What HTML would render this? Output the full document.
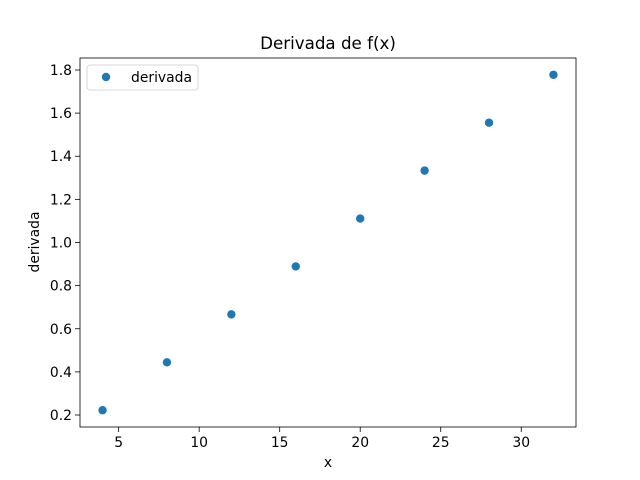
<!DOCTYPE html>
<html><head><meta charset="utf-8"><style>body{margin:0;background:#fff}svg{display:block;font-family:"DejaVu Sans","Liberation Sans",sans-serif}</style></head>
<body>
<svg id="c" width="640" height="480"></svg>
<script>
const xs=[4,8,12,16,20,24,28,32];
const ys=[0.2222,0.4444,0.6667,0.8889,1.1111,1.3333,1.5556,1.7778];
const xticks=[5,10,15,20,25,30];
const yticks=[0.2,0.4,0.6,0.8,1.0,1.2,1.4,1.6,1.8];
const L=80,R=576,T=58,B=427;
const x0=2.6,x1=33.4,y0=0.1444,y1=1.8556;
const X=v=>L+(v-x0)/(x1-x0)*(R-L);
const Y=v=>B-(v-y0)/(y1-y0)*(B-T);
const s=document.getElementById('c');const NS='http://www.w3.org/2000/svg';
function el(t,a,txt){const e=document.createElementNS(NS,t);for(const k in a)e.setAttribute(k,a[k]);if(txt!=null)e.textContent=txt;s.appendChild(e);return e;}
let e;
e=el('text',{x:328,y:49,'text-anchor':'middle','font-size':16.7},'Derivada de f(x)');


xticks.forEach(v=>{const p=X(v);
e=el('line',{x1:p,x2:p,y1:B,y2:B+5,stroke:'#000','stroke-width':0.8});


e=el('text',{x:p,y:B+20,'text-anchor':'middle','font-size':13.9},String(v));

});
yticks.forEach(v=>{const p=Y(v);
e=el('line',{x1:L-5,x2:L,y1:p,y2:p,stroke:'#000','stroke-width':0.8});


e=el('text',{x:L-8,y:p+5,'text-anchor':'end','font-size':13.9},v.toFixed(1));

});
xs.forEach((v,i)=>{e=el('circle',{cx:X(v),cy:Y(ys[i]),r:4.2,fill:'#1f77b4'});

});
e=el('rect',{x:L,y:T,width:R-L,height:B-T,fill:'none',stroke:'#000','stroke-width':0.8});


e=el('text',{x:328,y:467,'text-anchor':'middle','font-size':13.9},'x');


e=el('text',{x:39,y:242,'text-anchor':'middle','font-size':13.9,transform:'rotate(-90 39 242)'},'derivada');


e=el('rect',{x:87,y:65,width:111,height:25,rx:3,fill:'#fff',stroke:'#ccc','stroke-width':0.8});


e=el('circle',{cx:106,cy:77,r:4.2,fill:'#1f77b4'});


e=el('text',{x:131,y:82,'font-size':13.9},'derivada');


</script>
</body></html>
